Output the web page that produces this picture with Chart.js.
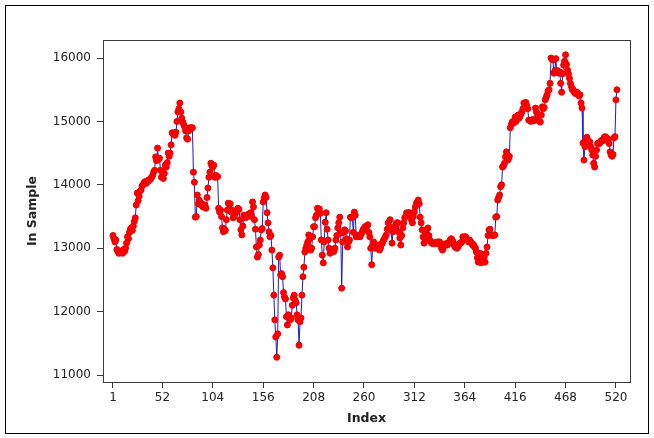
<!DOCTYPE html>
<html>
<head>
<meta charset="utf-8">
<title>In Sample</title>
<script src="https://cdn.jsdelivr.net/npm/chart.js@4.4.1/dist/chart.umd.min.js"></script>
<style>
  html, body { margin: 0; padding: 0; background: #fff; }
  #wrap { position: relative; width: 654px; height: 438px; }
  canvas { display: block; }
</style>
</head>
<body>
<div id="wrap"><canvas id="chart" width="654" height="438"></canvas></div>
<script>
// Time series plot — "In Sample" vs Index, red symbols joined by a thin blue line.

const X_TICKS = [1, 52, 104, 156, 208, 260, 312, 364, 416, 468, 520];
const Y_TICKS = [11000, 12000, 13000, 14000, 15000, 16000];

// values, index 1..521
const IN_SAMPLE = [
  13200,13150,13100,13130,12980,12950,12920,12950,12930,12960,
  12920,12980,12950,13000,13080,13180,13150,13250,13300,13320,
  13280,13350,13420,13480,13680,13870,13750,13820,13900,13920,
  13980,14000,14030,14050,14020,14060,14050,14080,14080,14100,
  14120,14150,14200,14230,14440,14380,14580,14400,14420,14230,
  14120,14200,
  14100,14180,14310,14280,14350,14500,14450,14500,14630,14820,
  14800,14820,14780,14830,15000,15150,15200,15290,15150,15050,
  14990,14950,14910,14850,14740,14720,14850,14900,14880,14900,
  14900,14200,14040,13490,13500,13840,13700,13760,13720,13680,
  13700,13650,13680,13680,13630,13800,13950,14120,14200,14340,
  14300,14280,
  14310,14120,14150,14120,14130,13630,13570,13600,13500,13320,
  13260,13300,13280,13450,13600,13710,13690,13700,13570,13600,
  13480,13500,13550,13560,13600,13630,13610,13450,13290,13210,
  13350,13520,13500,13480,13520,13500,13540,13520,13560,13500,
  13730,13650,13450,13300,13020,12860,12900,13050,13130,13290,
  13310,13730,
  13790,13840,13800,13560,13400,13260,13180,13200,12970,12690,
  12260,11870,11600,11280,11650,12860,12890,12580,12600,12550,
  12300,12230,12200,11920,11790,11950,11900,11870,11900,12100,
  12220,12260,12180,12140,11950,11870,11470,11840,11900,12260,
  12550,12700,12940,13000,13050,13100,13210,13150,12970,13000,
  13180,13340,
  13340,13480,13520,13630,13600,13620,13550,13130,12890,12770,
  13100,13410,13560,13300,13130,13000,12920,12950,12940,12970,
  12950,13000,13130,13200,13320,13400,13490,13240,12370,13100,
  13250,13290,13270,13150,13020,13100,13130,13490,13480,13490,
  13250,13570,13520,13180,13200,13180,13200,13180,13220,13250,
  13290,13310,
  13340,13300,13350,13370,13250,13180,13000,12740,13050,13100,
  13000,13050,13020,13000,13050,12970,13000,13060,13080,13120,
  13150,13180,13210,13300,13400,13350,13450,13290,13080,13260,
  13300,13340,13380,13400,13400,13250,13160,13050,13200,13320,
  13400,13480,13500,13560,13540,13560,13560,13520,13450,13400,
  13500,13570,
  13650,13700,13730,13760,13700,13490,13400,13290,13180,13080,
  13150,13240,13300,13320,13200,13130,13100,13080,13070,13080,
  13090,13070,13080,13100,13080,13100,13050,13000,12970,13020,
  13050,13070,13060,13050,13080,13100,13130,13150,13130,13100,
  13050,13020,13010,13000,13020,13060,13080,13080,13100,13180,
  13150,13180,
  13180,13150,13130,13100,13130,13100,13080,13050,13060,13020,
  13000,12940,12850,12780,12900,12920,12770,12850,12800,12860,
  12780,12920,13020,13200,13290,13300,13210,13200,13210,13200,
  13210,13490,13500,13760,13800,13840,13970,14000,14280,14300,
  14340,14440,14520,14390,14400,14450,14900,14950,14990,15000,
  14980,15070,
  15000,15050,15100,15050,15080,15120,15150,15200,15290,15280,
  15300,15250,15200,15020,15020,15000,15020,15030,15010,15020,
  15210,15150,15120,15070,15000,14990,15100,15230,15200,15220,
  15340,15380,15420,15480,15500,15600,16000,15980,15970,15760,
  15800,15990,15780,15800,15760,15780,15600,15460,15750,15890,
  15950,16050,
  15900,15810,15750,15680,15600,15550,15500,15500,15460,15440,
  15450,15460,15420,15400,15420,15290,15210,14660,14390,14600,
  14710,14750,14700,14650,14680,14600,14550,14470,14340,14280,
  14450,14550,14650,14660,14650,14680,14700,14690,14720,14750,
  14760,14750,14700,14720,14650,14520,14470,14450,14480,14740,
  14760,15340,15500
];

const FRAME = '#3a3a3a';
const TEXT = '#222';

// Plot frame on all four sides plus the outer border round the picture.
const framePlugin = {
  id: 'frame',
  afterDraw(chart) {
    const { ctx, chartArea: a } = chart;
    ctx.save();
    ctx.strokeStyle = FRAME;
    ctx.lineWidth = 1;
    ctx.strokeRect(Math.round(a.left) + 0.5, Math.round(a.top) + 0.5,
                   Math.round(a.right - a.left), Math.round(a.bottom - a.top));
    ctx.strokeStyle = '#000';
    ctx.strokeRect(5.5, 5.5, 643, 428);
    ctx.restore();
  }
};

const bgPlugin = {
  id: 'bg',
  beforeDraw(chart) {
    const { ctx } = chart;
    ctx.save();
    ctx.fillStyle = '#fff';
    ctx.fillRect(0, 0, chart.width, chart.height);
    ctx.restore();
  }
};

new Chart(document.getElementById('chart'), {
  type: 'line',
  data: {
    datasets: [{
      label: 'In Sample',
      data: IN_SAMPLE.map((v, i) => ({ x: i + 1, y: v })),
      borderColor: '#1a1ad0',
      borderWidth: 1,
      pointRadius: 3,
      pointBackgroundColor: '#ff0000',
      pointBorderColor: '#ee0000',
      pointBorderWidth: 1,
      tension: 0
    }]
  },
  options: {
    responsive: false,
    animation: false,
    devicePixelRatio: 1,
    layout: { padding: { left: 0, right: 24, top: 40, bottom: 0 } },
    plugins: { legend: { display: false }, tooltip: { enabled: false } },
    scales: {
      x: {
        type: 'linear',
        min: -9.3,
        max: 534.5,
        afterBuildTicks: s => { s.ticks = X_TICKS.map(v => ({ value: v })); },
        afterFit: s => { s.height = 56; },
        grid: { drawOnChartArea: false, drawTicks: true, tickLength: 6, color: FRAME },
        border: { display: true, color: FRAME },
        ticks: {
          color: TEXT, padding: 3, maxRotation: 0, autoSkip: false,
          font: { family: 'DejaVu Sans', size: 12 },
          callback: v => String(v)
        },
        title: {
          display: true, text: 'Index', color: TEXT,
          font: { family: 'DejaVu Sans', size: 12.5, weight: 'bold' },
          padding: { top: 0, bottom: 12 }
        }
      },
      y: {
        min: 10890,
        max: 16284,
        afterBuildTicks: s => { s.ticks = Y_TICKS.map(v => ({ value: v })); },
        afterFit: s => { s.width = 103; },
        grid: { drawOnChartArea: false, drawTicks: true, tickLength: 6, color: FRAME },
        border: { display: true, color: FRAME },
        ticks: {
          color: TEXT, padding: 6,
          font: { family: 'DejaVu Sans', size: 12 },
          callback: v => String(v)
        },
        title: {
          display: true, text: 'In Sample', color: TEXT,
          font: { family: 'DejaVu Sans', size: 12.5, weight: 'bold' },
          padding: { top: 25, bottom: 0 }
        }
      }
    }
  },
  plugins: [bgPlugin, framePlugin]
});
</script>
</body>
</html>
